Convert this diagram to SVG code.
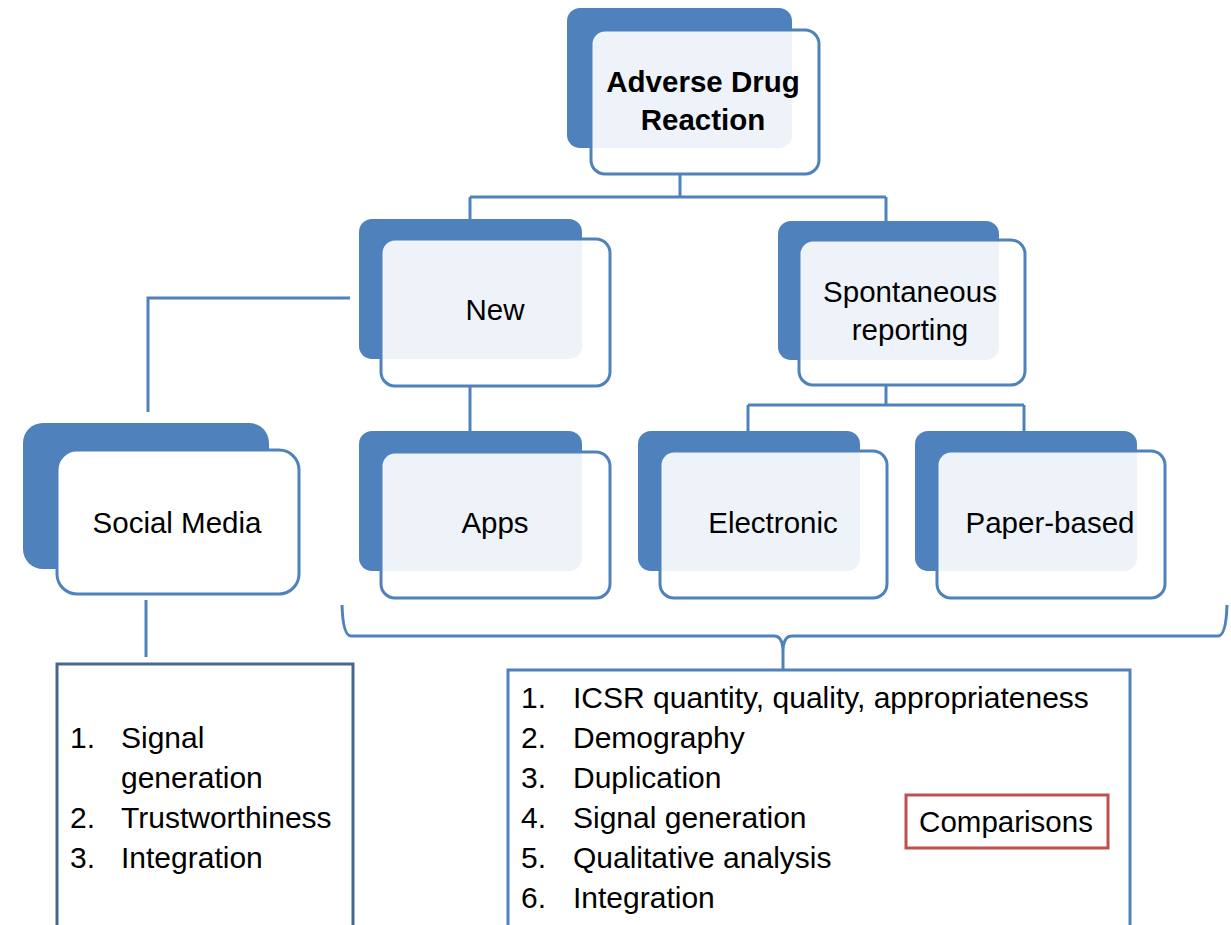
<svg xmlns="http://www.w3.org/2000/svg" width="1231" height="925" viewBox="0 0 1231 925">
<style>
.back{fill:#4F81BD;}
.front{fill:#FFFFFF;fill-opacity:0.9;stroke:#4F81BD;stroke-width:3;}
.conn{fill:none;stroke:#4F81BD;stroke-width:3;}
.lbl{font-family:"Liberation Sans",Arial,sans-serif;font-size:29.5px;fill:#000;text-anchor:middle;}
.lst{font-family:"Liberation Sans",Arial,sans-serif;font-size:30px;fill:#000;}
</style>
<rect width="1231" height="925" fill="#FFFFFF"/>
<g id="connectors">
<path class="conn" d="M680,175 V197 M470,197 H886 M470,197 V219 M886,197 V221"/>
<path class="conn" d="M350,298 H148 V412"/>
<path class="conn" d="M470,386 V431"/>
<path class="conn" d="M886,385 V405 M748,405 H1024 M748,405 V431 M1024,405 V431"/>
<path class="conn" d="M146,600 V657"/>
<path class="conn" d="M342,605 Q343,636 351,636 L774,636 Q783,636 783,652 L783,670 M783,652 Q783,636 792,636 L1218,636 Q1226,636 1227,605"/>
</g>
<g id="node-adr">
<rect class="back" x="567" y="8" width="225" height="140" rx="13"/>
<rect class="front" x="591" y="30" width="228" height="144" rx="14"/>
<text class="lbl" x="703" y="92" font-weight="bold" font-size="30">Adverse Drug</text>
<text class="lbl" x="703" y="130" font-weight="bold" font-size="30">Reaction</text>
</g>
<g id="node-new">
<rect class="back" x="359" y="219" width="223" height="140" rx="13"/>
<rect class="front" x="381" y="239" width="229" height="147" rx="14"/>
<text class="lbl" x="495" y="320">New</text>
</g>
<g id="node-spontaneous">
<rect class="back" x="778" y="221" width="221" height="139" rx="13"/>
<rect class="front" x="799" y="240" width="226" height="145" rx="14"/>
<text class="lbl" x="910" y="302">Spontaneous</text>
<text class="lbl" x="910" y="340">reporting</text>
</g>
<g id="node-social">
<rect class="back" x="23" y="423" width="246" height="146" rx="20"/>
<rect x="57" y="450" width="242" height="144" rx="20" fill="#FFFFFF" stroke="#4F81BD" stroke-width="3"/>
<text class="lbl" x="177" y="533">Social Media</text>
</g>
<g id="node-apps">
<rect class="back" x="359" y="431" width="223" height="140" rx="13"/>
<rect class="front" x="381" y="452" width="229" height="146" rx="14"/>
<text class="lbl" x="495" y="533">Apps</text>
</g>
<g id="node-electronic">
<rect class="back" x="638" y="431" width="222" height="140" rx="13"/>
<rect class="front" x="660" y="451" width="227" height="147" rx="14"/>
<text class="lbl" x="773" y="533">Electronic</text>
</g>
<g id="node-paper">
<rect class="back" x="915" y="431" width="222" height="140" rx="13"/>
<rect class="front" x="937" y="451" width="228" height="147" rx="14"/>
<text class="lbl" x="1050" y="533">Paper-based</text>
</g>
<g id="box-social-list">
<rect x="57" y="664" width="296" height="275" fill="#FFFFFF" stroke="#44688F" stroke-width="3"/>
<text class="lst" x="70" y="748">1.</text>
<text class="lst" x="121" y="748">Signal</text>
<text class="lst" x="121" y="788">generation</text>
<text class="lst" x="70" y="828">2.</text>
<text class="lst" x="121" y="828">Trustworthiness</text>
<text class="lst" x="70" y="868">3.</text>
<text class="lst" x="121" y="868">Integration</text>
</g>
<g id="box-comparison-list">
<rect x="508" y="670" width="622" height="270" fill="#FFFFFF" stroke="#4F81BD" stroke-width="3"/>
<text class="lst" x="521" y="708">1.</text>
<text class="lst" x="573" y="708">ICSR quantity, quality, appropriateness</text>
<text class="lst" x="521" y="748">2.</text>
<text class="lst" x="573" y="748">Demography</text>
<text class="lst" x="521" y="788">3.</text>
<text class="lst" x="573" y="788">Duplication</text>
<text class="lst" x="521" y="828">4.</text>
<text class="lst" x="573" y="828">Signal generation</text>
<text class="lst" x="521" y="868">5.</text>
<text class="lst" x="573" y="868">Qualitative analysis</text>
<text class="lst" x="521" y="908">6.</text>
<text class="lst" x="573" y="908">Integration</text>
</g>
<g id="node-comparisons">
<rect x="906" y="795" width="202" height="53" fill="#FFFFFF" stroke="#C0504D" stroke-width="3"/>
<text class="lbl" x="1006" y="832">Comparisons</text>
</g>
</svg>
